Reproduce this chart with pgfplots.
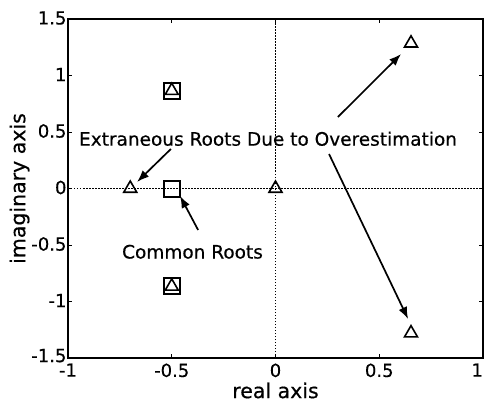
\documentclass[border=0pt]{standalone}
\usepackage{pgfplots}
\pgfplotsset{compat=1.18}
\usepackage{fontspec}
\setmainfont{DejaVu Sans}[RawFeature={embolden=0.5}]
\usetikzlibrary{arrows.meta}

\begin{document}
\begin{tikzpicture}
\useasboundingbox (-68pt,-49pt) rectangle (418pt,358pt);
\begin{axis}[
  scale only axis,
  width=415pt, height=339pt,
  xmin=-1, xmax=1, ymin=-1.5, ymax=1.5,
  xtick={-1,-0.5,0,0.5,1},
  ytick={-1.5,-1,-0.5,0,0.5,1,1.5},
  xticklabels={-1,-0.5,0,0.5,\llap{1}},
  yticklabels={\raisebox{3pt}{-1.5},-1,-0.5,0,0.5,1,1.5},
  tick align=inside,
  major tick length=4pt,
  axis line style={line width=1.5pt},
  every tick/.style={black, line width=1pt},
  tick label style={font=\fontsize{18}{20}\selectfont},
  /pgf/number format/assume math mode=true,
  xlabel={real axis}, ylabel={imaginary axis},
  label style={font=\fontsize{20.5}{22}\selectfont},
  xlabel style={yshift=1.5pt},
  ylabel style={yshift=-5pt},
  xticklabel style={yshift=-2pt},
  yticklabel style={xshift=2pt, yshift=1pt},
  clip=false,
]
% axes through the origin
\addplot[line width=1.6pt, dash pattern=on 1.5pt off 1.5pt] coordinates {(-1,0) (1,0)};
\addplot[line width=1.6pt, dash pattern=on 1.5pt off 1.5pt] coordinates {(0,-1.5) (0,1.5)};

% common roots
\addplot[only marks, mark=square, mark size=8pt, mark options={line width=2pt}]
  coordinates {(-0.5,0.866) (-0.5,0) (-0.5,-0.866)};
% roots of the overestimated model
\addplot[only marks, mark=triangle, mark size=7.5pt, mark options={line width=1.6pt}]
  coordinates {(-0.5,0.866) (-0.5,-0.866) (0,0) (-0.7,0) (0.653,1.285) (0.653,-1.28)};

% annotations
\node[font=\fontsize{18.5}{20}\selectfont] at (axis cs:-0.036,0.44) {Extraneous Roots Due to Overestimation};
\node[font=\fontsize{18.5}{20}\selectfont] at (axis cs:-0.40,-0.56) {Common Roots};
\draw[line width=1.7pt, -{Latex[length=12pt,width=9pt]}] (axis cs:-0.504,0.35) -- (axis cs:-0.667,0.058);
\draw[line width=1.7pt, -{Latex[length=12pt,width=9pt]}] (axis cs:-0.373,-0.367) -- (axis cs:-0.46,-0.066);
\draw[line width=1.7pt, -{Latex[length=12pt,width=9pt]}] (axis cs:0.301,0.633) -- (axis cs:0.605,1.19);
\draw[line width=1.7pt, -{Latex[length=12pt,width=9pt]}] (axis cs:0.258,0.305) -- (axis cs:0.639,-1.155);
\end{axis}
\end{tikzpicture}
\end{document}
